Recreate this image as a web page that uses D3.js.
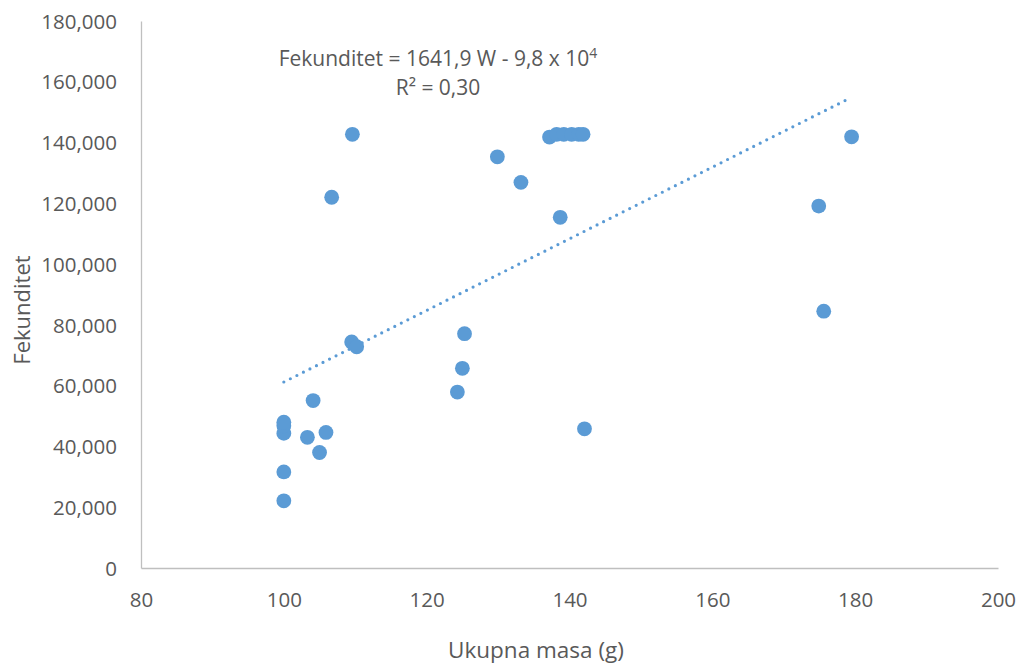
<!DOCTYPE html>
<html><head><meta charset="utf-8">
<script src="https://cdn.jsdelivr.net/npm/d3@7"></script>
<style>body{margin:0;background:#fff}svg{display:block}text{font-family:"Open Sans",sans-serif;fill:#595959}</style>
</head><body><svg id="c" width="1024" height="666"></svg>
<script>
const massX = [100,100,100,100,100,103.3,104.1,105.0,105.9,106.7,109.5,109.6,110.2,124.3,125.0,125.3,129.9,133.2,137.2,138.2,139.2,140.3,141.3,141.9,138.7,142.1,174.9,175.6,179.5];
const fecY  = [22100,31600,44300,46800,48000,43000,55100,38000,44600,122000,74400,142700,72800,57900,65700,77100,135300,126900,141800,142700,142700,142700,142700,142700,115400,45800,119100,84500,141900];
const trendX = [100,179.0];
const trendY = [61200,154300];
const xTicks = [80,100,120,140,160,180,200];
const yTicks = [0,20000,40000,60000,80000,100000,120000,140000,160000,180000];
const eqLine1 = "Fekunditet = 1641,9 W - 9,8 x 10";
const eqSup = "4";
const eqLine2 = "R² = 0,30";

const svg = d3.select("#c");
const x = d3.scaleLinear().domain([80,200]).range([141,998]);
const y = d3.scaleLinear().domain([0,180000]).range([568,21]);
const col = "#5B9BD5";

// axes
const xa = svg.append("g").attr("transform","translate(0,568)")
  .call(d3.axisBottom(x).tickValues(xTicks).tickSize(0).tickPadding(24).tickFormat(d3.format("d")));
xa.select(".domain").attr("stroke","#BFBFBF").attr("stroke-width",1.3);
xa.selectAll("text").style("font-size","20.5px").attr("fill","#595959");
const ya = svg.append("g").attr("transform","translate(141,0)")
  .call(d3.axisLeft(y).tickValues(yTicks).tickSize(0).tickPadding(24).tickFormat(d=>d===0?"0":d3.format(",")(d)));
ya.select(".domain").attr("stroke","#BFBFBF").attr("stroke-width",1.3);
ya.selectAll("text").style("font-size","20.5px").attr("fill","#595959").attr("dy","0.35em");

// trend line
const tl = trendX.map((d,i)=>[d,trendY[i]]);
svg.append("path").attr("d",d3.line().x(d=>x(d[0])).y(d=>y(d[1]))(tl))
  .attr("fill","none").attr("stroke",col).attr("stroke-width",3.2)
  .attr("stroke-linecap","round").attr("stroke-dasharray","0 7.3");

// points
svg.append("g").selectAll("circle").data(massX.map((d,i)=>[d,fecY[i]])).join("circle")
  .attr("cx",d=>x(d[0])).attr("cy",d=>y(d[1])).attr("r",7.4)
  .attr("fill",col);

// equation
const t1 = svg.append("text").attr("x",438).attr("y",66).attr("text-anchor","middle").style("font-size","21px");
t1.append("tspan").text(eqLine1);
t1.append("tspan").attr("dy",-8).style("font-size","14px").text(eqSup);
svg.append("text").attr("x",438).attr("y",95).attr("text-anchor","middle").style("font-size","21px").text(eqLine2);

// axis titles
svg.append("text").attr("x",536).attr("y",658).attr("text-anchor","middle").style("font-size","22.5px").text("Ukupna masa (g)");
svg.append("text").attr("transform","translate(30,310) rotate(-90)").attr("text-anchor","middle").style("font-size","22px").text("Fekunditet");
</script></body></html>
